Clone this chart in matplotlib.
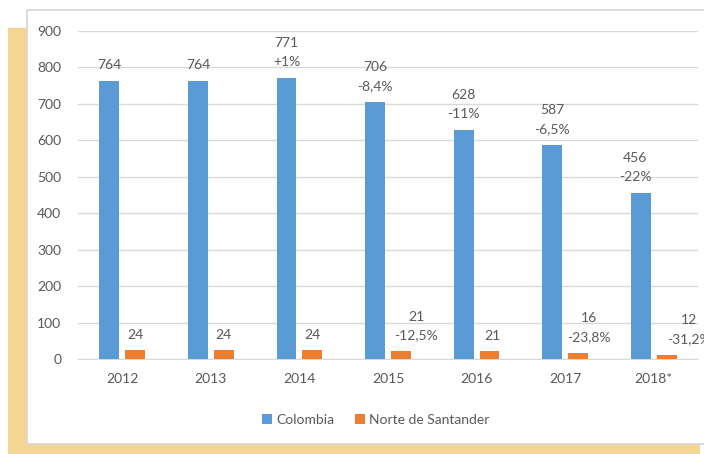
import numpy as np
import matplotlib
matplotlib.use('Agg')
import matplotlib.pyplot as plt
from matplotlib.patches import Rectangle

# data
years = ['2012', '2013', '2014', '2015', '2016', '2017', '2018*']
colombia = [764, 764, 771, 706, 628, 587, 456]
colombia_pct = ['', '', '+1%', '-8,4%', '-11%', '-6,5%', '-22%']
norte = [24, 24, 24, 21, 21, 16, 12]
norte_pct = ['', '', '', '-12,5%', '', '-23,8%', '-31,2%']

plt.rcParams['font.family'] = ['Lato', 'DejaVu Sans']
txt_color = '#595959'

W, H = 704, 454
fig = plt.figure(figsize=(W / 100, H / 100), dpi=100)

# yellow frame behind the white chart box
fig.patches.append(Rectangle((8 / W, 0), 692 / W, (H - 28) / H, transform=fig.transFigure,
                             facecolor='#F4D692', edgecolor='none', zorder=0))
fig.patches.append(Rectangle((27 / W, (H - 444) / H), 680 / W, 434 / H, transform=fig.transFigure,
                             facecolor='white', edgecolor='#D6D6D6', linewidth=1.2, zorder=1))

ax = fig.add_axes([78 / W, (H - 359) / H, 620 / W, 328 / H])
ax.set_zorder(5)
ax.set_facecolor('none')

x = np.arange(len(years))
off, w = 0.146, 0.225
b1 = ax.bar(x - off, colombia, w, color='#5B9BD5', label='Colombia', zorder=3)
b2 = ax.bar(x + off, norte, w, color='#ED7D31', label='Norte de Santander', zorder=3)

ax.set_xlim(-0.5, 6.5)
ax.set_ylim(0, 900)
ax.set_yticks(range(0, 1000, 100))
ax.set_xticks(x)
ax.set_xticklabels(years)
ax.tick_params(length=0, labelsize=10, colors=txt_color, pad=10)
ax.tick_params(axis='y', pad=12)
ax.yaxis.grid(True, color='#D9D9D9', linewidth=1, zorder=0)
ax.set_axisbelow(True)
for s in ['top', 'right', 'left']:
    ax.spines[s].set_visible(False)
ax.spines['bottom'].set_color('#D9D9D9')

# data labels (value plus change in percent)
col_dx = [0, 0, 0, 0, 0, 0, -4]
nor_dx = [0, 0, 0, 11, 2, 8, 16]
for i in range(len(years)):
    t = str(colombia[i]) + ('\n' + colombia_pct[i] if colombia_pct[i] else '')
    ax.annotate(t, (x[i] - off, colombia[i]), xytext=(col_dx[i], 7), textcoords='offset points',
                ha='center', va='bottom', fontsize=10, color=txt_color, linespacing=1.7,
                annotation_clip=False)
    t = str(norte[i]) + ('\n' + norte_pct[i] if norte_pct[i] else '')
    ax.annotate(t, (x[i] + off, norte[i]), xytext=(nor_dx[i], 7), textcoords='offset points',
                ha='center', va='bottom', fontsize=10, color=txt_color, linespacing=1.7,
                annotation_clip=False)

ax.legend(loc='upper center', bbox_to_anchor=(0.48, -0.13), ncol=2, frameon=False,
          fontsize=10, handlelength=0.7, handleheight=0.7, handletextpad=0.3,
          columnspacing=1.5, labelcolor=txt_color)

fig.savefig('out.png', dpi=100)
